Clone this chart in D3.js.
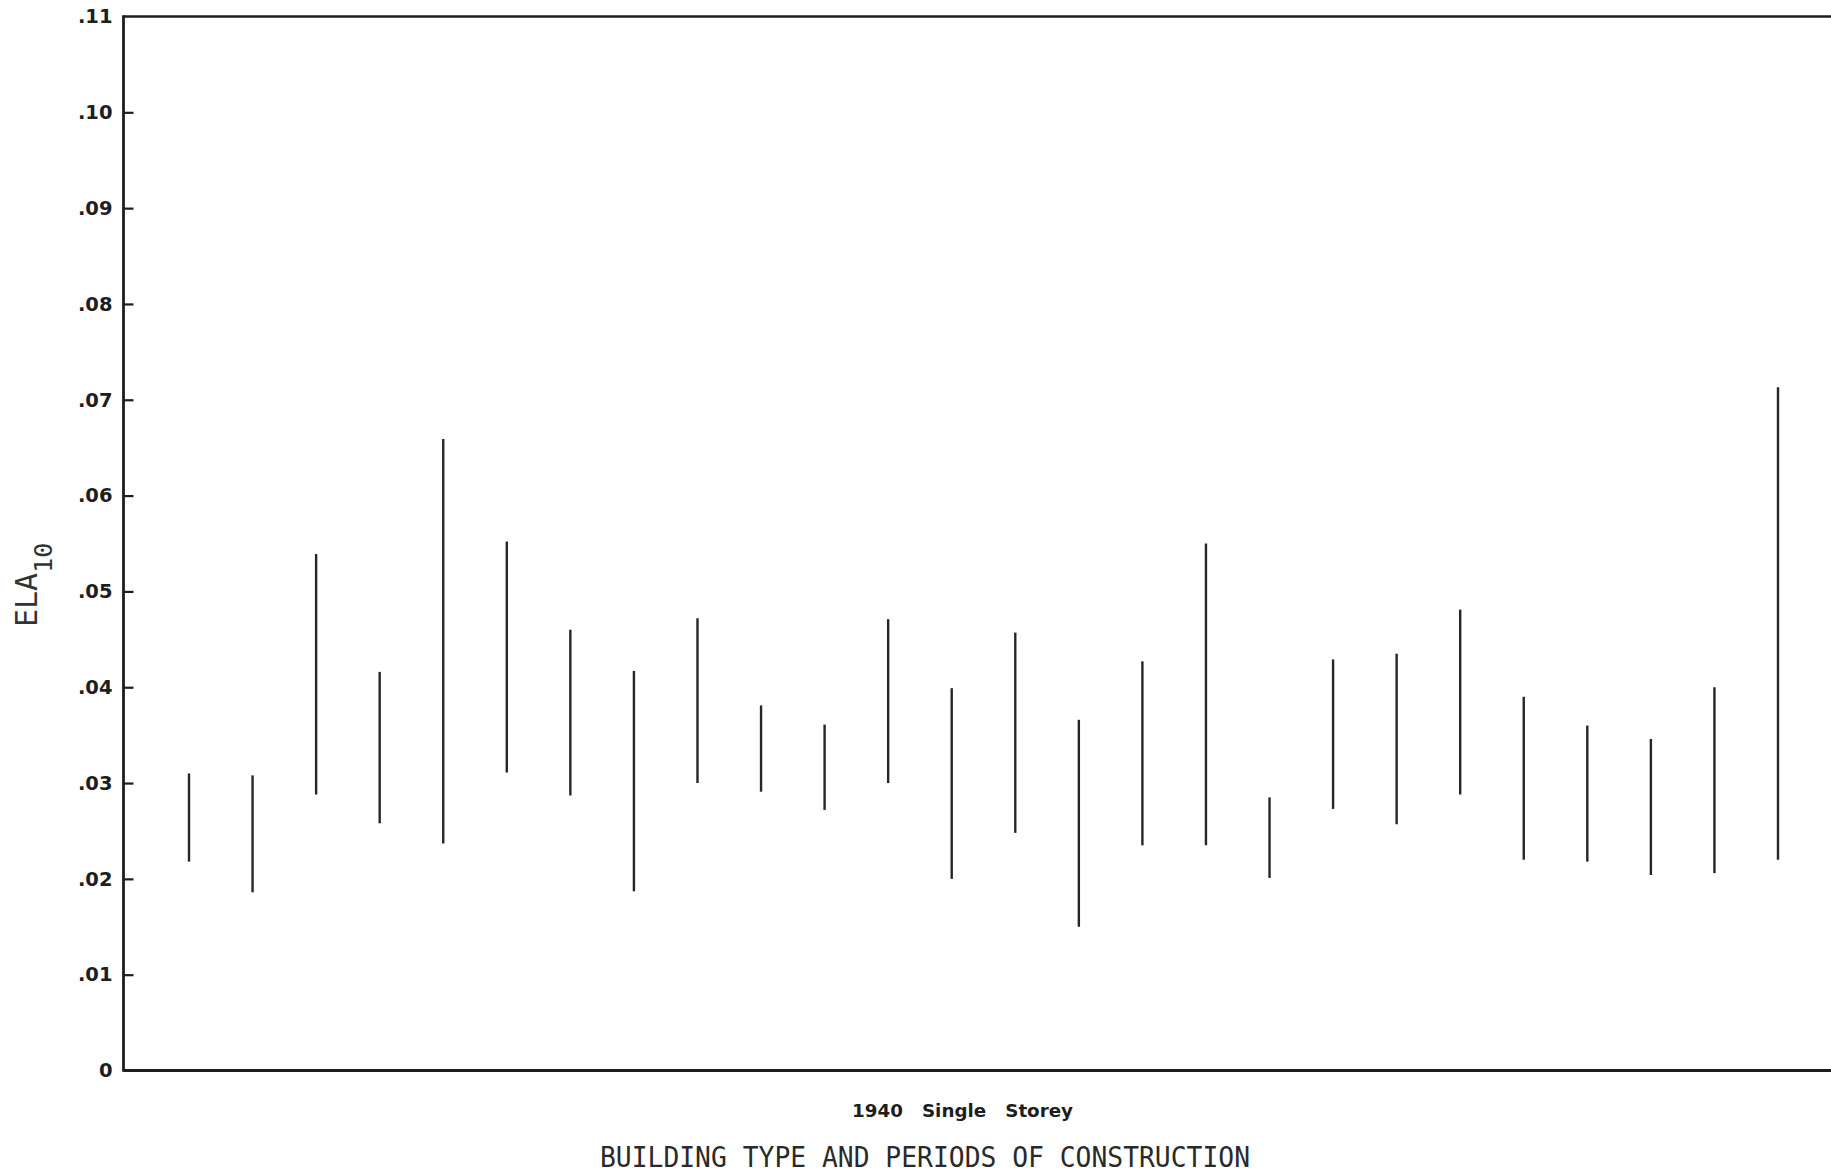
<!DOCTYPE html>
<html>
<head>
<meta charset="utf-8">
<script src="https://cdn.jsdelivr.net/npm/d3@7"></script>
<style>
  html, body { margin: 0; padding: 0; background: #ffffff; }
  svg { display: block; }
</style>
</head>
<body>
<script>
// Range of ELA10 per building case, 1940 single storey houses
const cases = [1, 2, 3, 4, 5, 6, 7, 8, 9, 10, 11, 12, 13, 14, 15, 16, 17, 18, 19, 20, 21, 22, 23, 24, 25, 26];
const elaLow  = [0.0218, 0.0186, 0.0288, 0.0258, 0.0237, 0.0311, 0.0287, 0.0187, 0.0300, 0.0291,
                 0.0272, 0.0300, 0.0200, 0.0248, 0.0150, 0.0235, 0.0235, 0.0201, 0.0273, 0.0257,
                 0.0288, 0.0220, 0.0218, 0.0204, 0.0206, 0.0220];
const elaHigh = [0.0310, 0.0308, 0.0539, 0.0416, 0.0659, 0.0552, 0.0460, 0.0417, 0.0472, 0.0381,
                 0.0361, 0.0471, 0.0399, 0.0457, 0.0366, 0.0427, 0.0550, 0.0285, 0.0429, 0.0435,
                 0.0481, 0.0390, 0.0360, 0.0346, 0.0400, 0.0713];
const yTicks = [0, 0.01, 0.02, 0.03, 0.04, 0.05, 0.06, 0.07, 0.08, 0.09, 0.10, 0.11];
const yTickLabels = ["0", ".01", ".02", ".03", ".04", ".05", ".06", ".07", ".08", ".09", ".10", ".11"];
const subtitle = "1940   Single   Storey";
const xTitle = "BUILDING TYPE AND PERIODS OF CONSTRUCTION";

const W = 1831, H = 1174;
const plotLeft = 123.5, plotRight = W, plotTop = 16.5, plotBottom = 1070.5;
const ink = "#1e1e1e";

const svg = d3.select("body").append("svg")
  .attr("width", W).attr("height", H)
  .attr("viewBox", `0 0 ${W} ${H}`);

svg.append("rect").attr("width", W).attr("height", H).attr("fill", "#ffffff");

const x = d3.scalePoint().domain(cases).range([189, 1778]);
const y = d3.scaleLinear().domain([0, 0.11]).range([plotBottom, plotTop]);

// Left axis with inward ticks
const yAxis = d3.axisLeft(y)
  .tickValues(yTicks)
  .tickSize(-10)
  .tickPadding(11)
  .tickFormat((d, i) => yTickLabels[i]);

const gy = svg.append("g")
  .attr("transform", `translate(${plotLeft},0)`)
  .call(yAxis);
gy.select(".domain").remove();
gy.selectAll(".tick line")
  .attr("stroke", ink).attr("stroke-width", 2.2)
  .filter(d => d === 0 || d === 0.11).remove();
gy.selectAll(".tick text")
  .attr("fill", ink)
  .attr("font-family", "'DejaVu Sans', sans-serif")
  .attr("font-weight", 700)
  .attr("font-size", 19.5);

// Frame: left axis, top and bottom rules running to the page edge
const frame = svg.append("g").attr("stroke", ink).attr("fill", "none");
frame.append("line").attr("x1", plotLeft).attr("x2", plotLeft).attr("y1", plotTop - 1.2).attr("y2", plotBottom + 1.2).attr("stroke-width", 2.8);
frame.append("line").attr("x1", plotLeft).attr("x2", plotRight).attr("y1", plotTop).attr("y2", plotTop).attr("stroke-width", 2.6);
frame.append("line").attr("x1", plotLeft).attr("x2", plotRight).attr("y1", plotBottom).attr("y2", plotBottom).attr("stroke-width", 2.8);

// Range bars
svg.append("g")
  .selectAll("line")
  .data(cases)
  .join("line")
  .attr("x1", d => x(d)).attr("x2", d => x(d))
  .attr("y1", (d, i) => y(elaLow[i]))
  .attr("y2", (d, i) => y(elaHigh[i]))
  .attr("stroke", "#262626")
  .attr("stroke-width", 2.4);

// Y title: ELA with subscript 10
const yt = svg.append("text")
  .attr("transform", "translate(37,627) rotate(-90)")
  .attr("font-family", "'DejaVu Sans Mono', monospace")
  .attr("fill", "#333")
  .attr("font-size", 30);
yt.append("tspan").text("ELA");
yt.append("tspan").attr("font-size", 25).attr("dy", 15).text("10");

// Subtitle under the axis
svg.append("text")
  .attr("x", 852).attr("y", 1117)
  .attr("font-family", "'DejaVu Sans', sans-serif")
  .attr("font-weight", 700)
  .attr("font-size", 18.5)
  .attr("fill", ink)
  .attr("textLength", 221)
  .attr("lengthAdjust", "spacingAndGlyphs")
  .style("white-space", "pre")
  .text(subtitle);

// X title
svg.append("text")
  .attr("x", 600).attr("y", 1166.5)
  .attr("font-family", "'DejaVu Sans Mono', monospace")
  .attr("font-size", 29)
  .attr("fill", "#2a2a2a")
  .attr("textLength", 650)
  .attr("lengthAdjust", "spacingAndGlyphs")
  .text(xTitle);
</script>
</body>
</html>
